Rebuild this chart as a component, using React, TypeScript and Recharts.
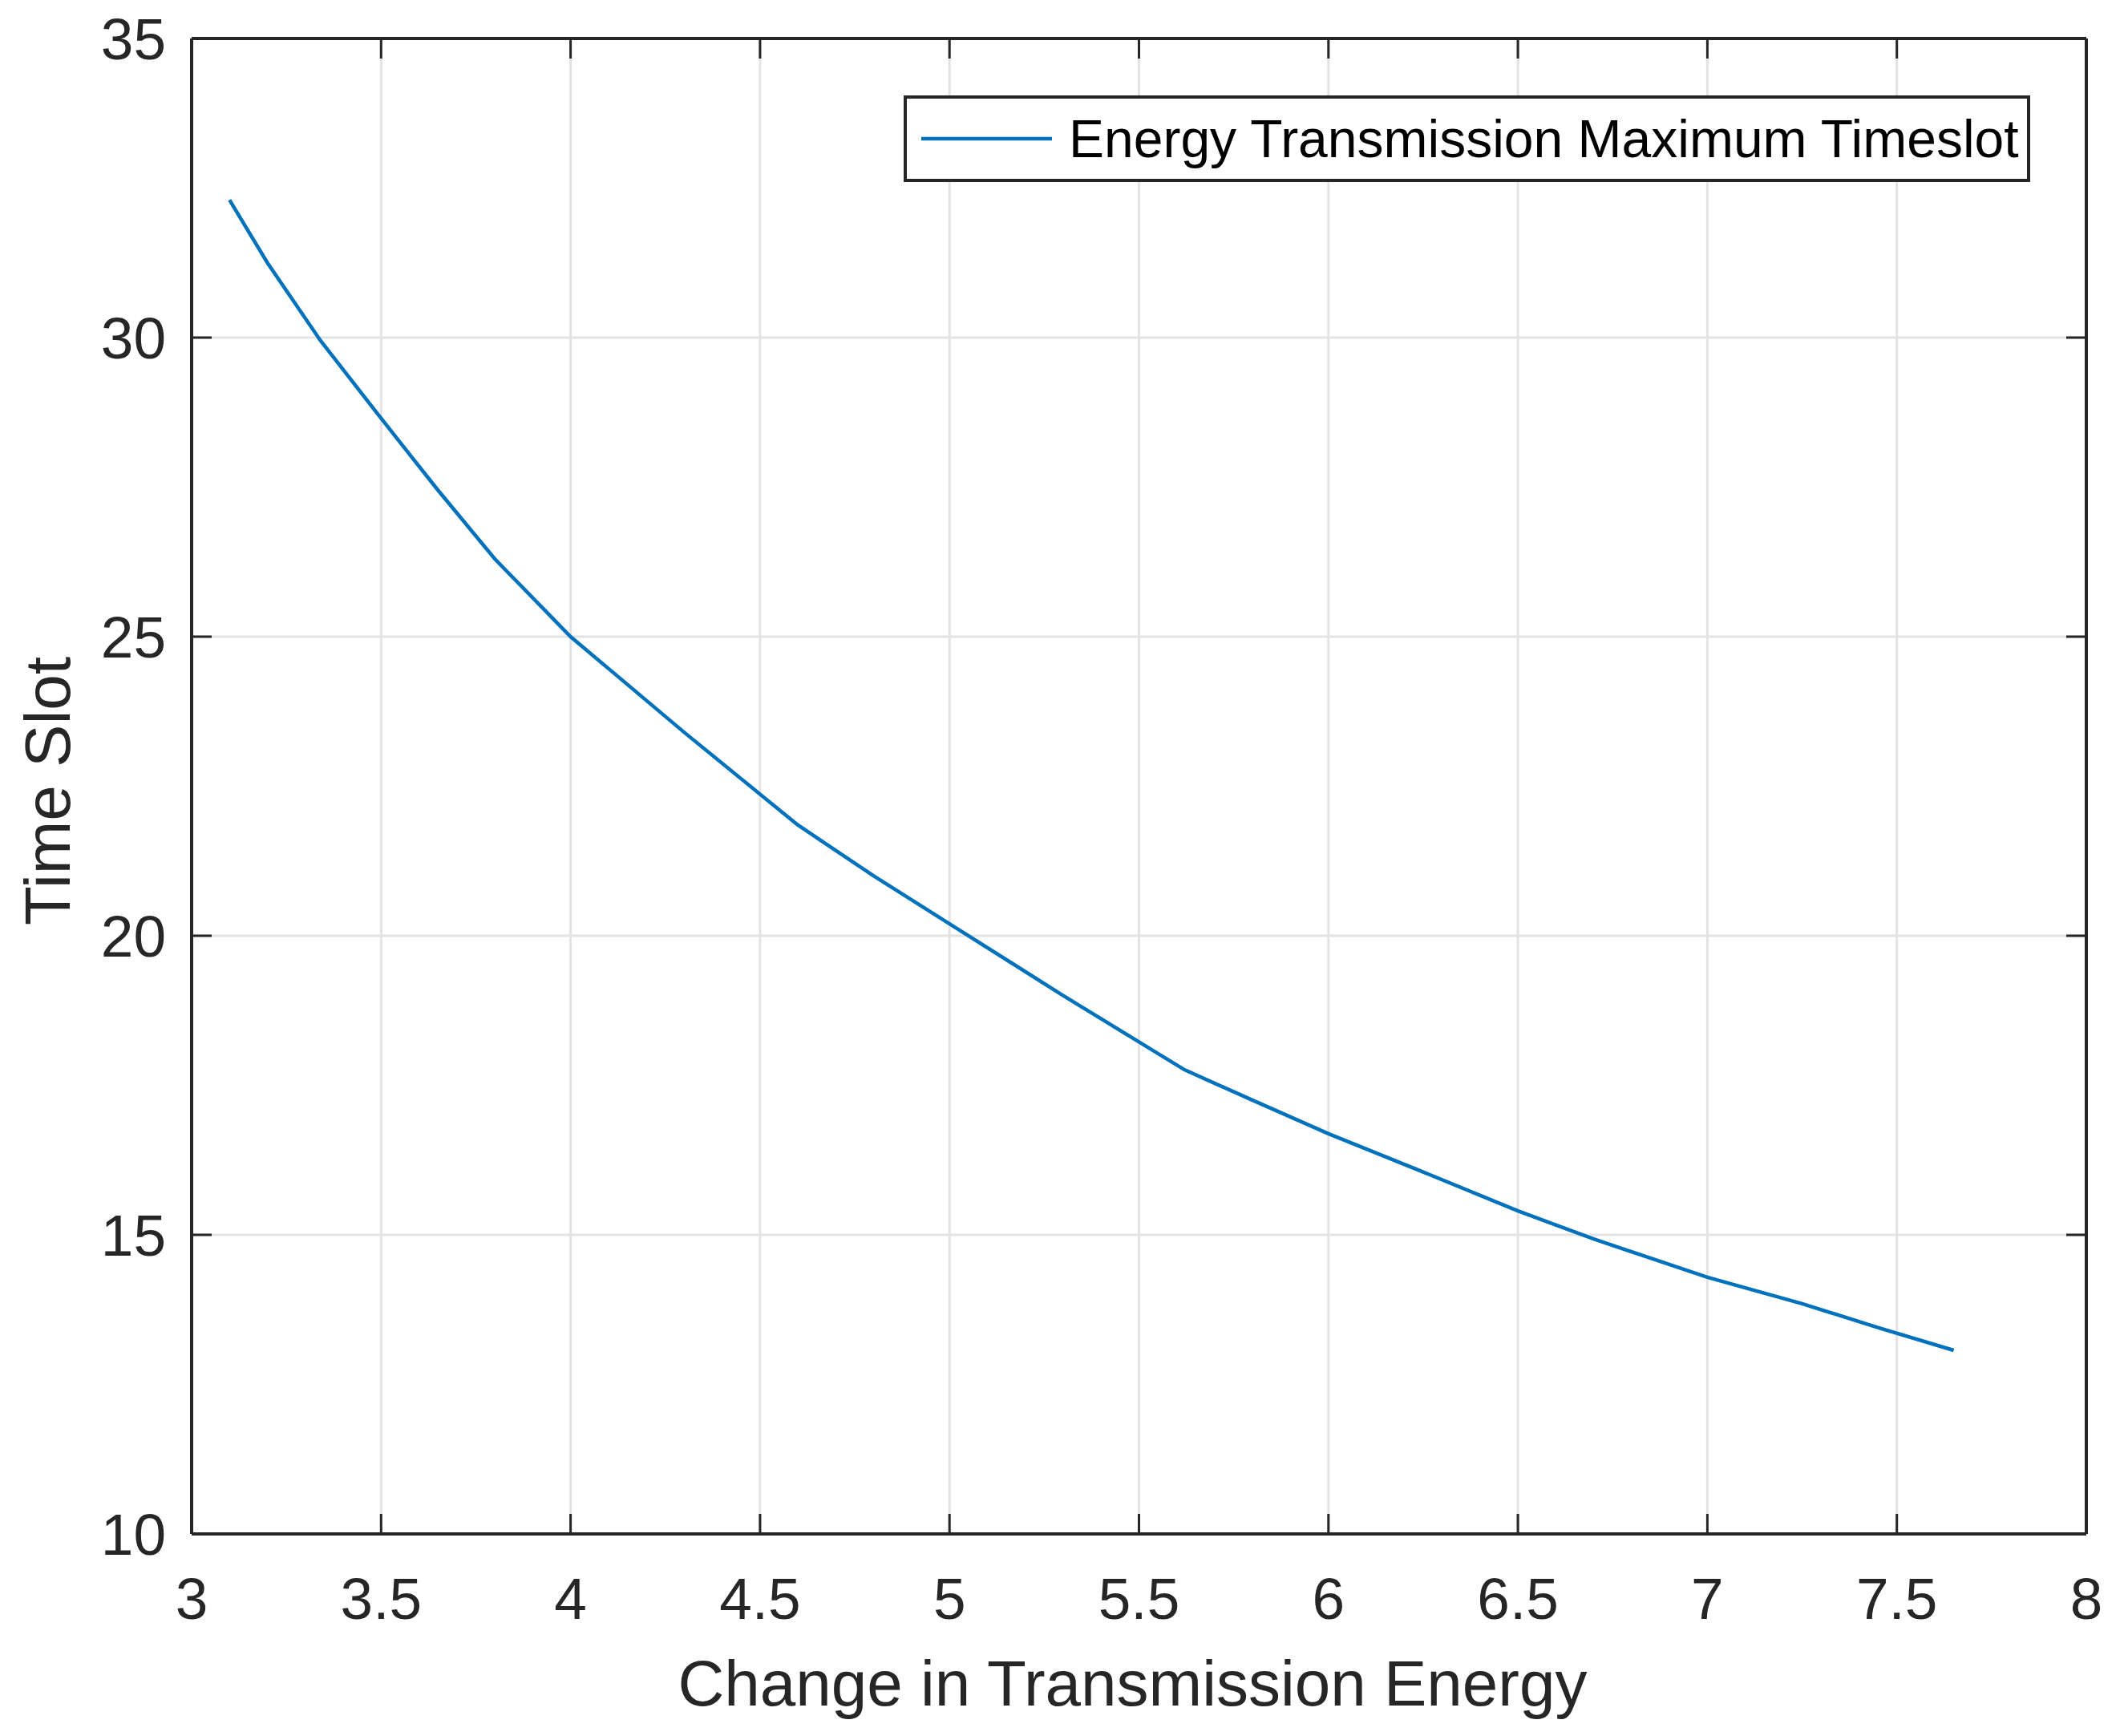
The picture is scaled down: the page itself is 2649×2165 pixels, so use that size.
import { LineChart, Line, XAxis, YAxis, CartesianGrid, Legend } from "recharts";

const energy = [3.1, 3.2, 3.34, 3.5, 3.65, 3.8, 4.0, 4.3, 4.6, 4.8, 5.0, 5.3, 5.62, 5.8, 6.0, 6.25, 6.5, 6.7, 7.0, 7.25, 7.45, 7.65];
const timeSlot = [32.3, 31.25, 29.95, 28.65, 27.45, 26.3, 25.0, 23.4, 21.85, 21.0, 20.2, 19.0, 17.76, 17.25, 16.69, 16.05, 15.4, 14.93, 14.29, 13.85, 13.45, 13.07];
const xTicks = [3, 3.5, 4, 4.5, 5, 5.5, 6, 6.5, 7, 7.5, 8];
const yTicks = [10, 15, 20, 25, 30, 35];
const seriesName = "Energy Transmission Maximum Timeslot";

const AXIS = "#262626";
const LINE = "#0072BD";
const FONT = "'Liberation Sans', Arial, Helvetica, sans-serif";

const chartData = energy.map((e, i) => ({ energy: e, slot: timeSlot[i] }));

// top/right axes only carry tick marks, no labels
const noLabel = () => "";

function LegendBox() {
  return (
    <div
      style={{
        boxSizing: "border-box",
        width: 1405,
        height: 108,
        border: `4px solid ${AXIS}`,
        background: "#fff",
        display: "flex",
        alignItems: "center",
        fontFamily: FONT,
        fontSize: 66,
        color: "#000",
      }}
    >
      <svg width={163} height={10} style={{ marginLeft: 18, flex: "none" }}>
        <line x1={0} y1={5} x2={163} y2={5} stroke={LINE} strokeWidth={4.5} />
      </svg>
      <span style={{ marginLeft: 21, whiteSpace: "nowrap" }}>{seriesName}</span>
    </div>
  );
}

export default function App() {
  return (
    <div
      style={{
        position: "absolute",
        left: 0,
        top: 0,
        width: 2649,
        height: 2165,
        background: "#fff",
        fontFamily: FONT,
      }}
    >
      <LineChart
        width={2649}
        height={2165}
        data={chartData}
        margin={{ top: 47, right: 46, bottom: 0, left: 0 }}
      >
        <CartesianGrid stroke="#e3e3e3" strokeWidth={3} />
        <XAxis
          dataKey="energy"
          type="number"
          domain={[3, 8]}
          ticks={xTicks}
          interval={0}
          height={252}
          tickSize={-25}
          tickMargin={79}
          stroke={AXIS}
          strokeWidth={4}
          tick={{ fontSize: 73, fill: AXIS }}
          tickLine={{ stroke: AXIS, strokeWidth: 3 }}
          label={{
            value: "Change in Transmission Energy",
            position: "center",
            dx: -8,
            dy: 60,
            fontSize: 80,
            fill: AXIS,
          }}
        />
        <XAxis
          xAxisId="top"
          orientation="top"
          dataKey="energy"
          type="number"
          domain={[3, 8]}
          allowDataOverflow
          ticks={xTicks}
          interval={0}
          height={1}
          tickSize={-25}
          tickFormatter={noLabel}
          tick={{ fontSize: 1 }}
          stroke={AXIS}
          strokeWidth={4}
          tickLine={{ stroke: AXIS, strokeWidth: 3 }}
        />
        <YAxis
          type="number"
          domain={[10, 35]}
          ticks={yTicks}
          interval={0}
          width={239}
          tickSize={-25}
          tickMargin={57}
          stroke={AXIS}
          strokeWidth={4}
          tick={{ fontSize: 73, fill: AXIS }}
          tickLine={{ stroke: AXIS, strokeWidth: 3 }}
          label={{
            value: "Time Slot",
            position: "center",
            angle: -90,
            dx: -61,
            dy: 6,
            fontSize: 80,
            fill: AXIS,
          }}
        />
        <YAxis
          yAxisId="right"
          orientation="right"
          type="number"
          domain={[10, 35]}
          allowDataOverflow
          ticks={yTicks}
          interval={0}
          width={1}
          tickSize={-25}
          tickFormatter={noLabel}
          tick={{ fontSize: 1 }}
          stroke={AXIS}
          strokeWidth={4}
          tickLine={{ stroke: AXIS, strokeWidth: 3 }}
        />
        <Legend
          layout="horizontal"
          verticalAlign="middle"
          align="center"
          wrapperStyle={{ left: 1127, top: 119, width: 1405, height: 108 }}
          content={() => <LegendBox />}
        />
        <Line
          type="linear"
          dataKey="slot"
          name={seriesName}
          stroke={LINE}
          strokeWidth={4.5}
          dot={false}
          activeDot={false}
          isAnimationActive={false}
        />
      </LineChart>
    </div>
  );
}
